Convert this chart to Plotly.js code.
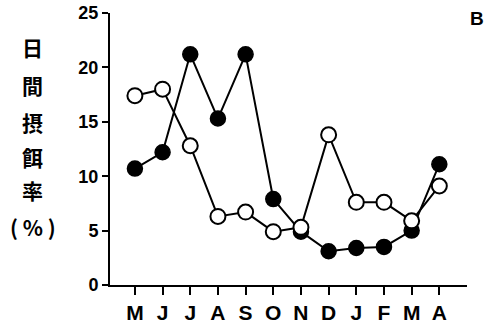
<!DOCTYPE html>
<html>
<head>
<meta charset="utf-8">
<script src="https://cdn.plot.ly/plotly-3.0.1.min.js"></script>
<style>html,body{margin:0;padding:0;background:#fff}#chart{width:490px;height:330px}</style>
</head>
<body>
<div id="chart"></div>
<script>
const months = ["M", "J", "J", "A", "S", "O", "N", "D", "J", "F", "M", "A"];
const filledValues = [10.7, 12.2, 21.2, 15.3, 21.2, 7.9, 4.9, 3.1, 3.4, 3.5, 5.0, 11.1];
const openValues = [17.4, 18.0, 12.8, 6.3, 6.7, 4.9, 5.3, 13.8, 7.6, 7.6, 5.9, 9.1];
const yTicks = [0, 5, 10, 15, 20, 25];
const titleChars = ["日", "間", "摂", "餌", "率", "( % )"];
const titleY = [0.874, 0.734, 0.599, 0.470, 0.349, 0.213];

const xIdx = months.map((_, i) => i);

const traces = [
  {
    x: xIdx, y: filledValues, type: "scatter", mode: "lines+markers",
    line: {color: "#000", width: 2},
    marker: {symbol: "circle", size: 15, color: "#000", line: {color: "#000", width: 1.5}},
    hoverinfo: "skip", showlegend: false
  },
  {
    x: xIdx, y: openValues, type: "scatter", mode: "lines+markers",
    line: {color: "#000", width: 2},
    marker: {symbol: "circle", size: 15, color: "#fff", line: {color: "#000", width: 2}},
    hoverinfo: "skip", showlegend: false
  }
];

const annotations = titleChars.map((c, i) => ({
  text: c, xref: "paper", yref: "paper", x: -0.216, y: titleY[i],
  xanchor: "center", yanchor: "middle", showarrow: false,
  font: {family: "Noto Sans CJK JP", size: 21, color: "#000", weight: "bold"}
}));
annotations.push({
  text: "<b>B</b>", xref: "paper", yref: "paper", x: 1.028, y: 0.98,
  xanchor: "center", yanchor: "middle", showarrow: false,
  font: {family: "Liberation Sans, Arial", size: 19, color: "#000"}
});

const layout = {
  width: 490, height: 330,
  margin: {l: 110, r: 23, t: 13, b: 45},
  paper_bgcolor: "#fff", plot_bgcolor: "#fff",
  showlegend: false,
  xaxis: {
    range: [-0.9, 12.0], tickmode: "array", tickvals: xIdx, ticktext: months,
    showgrid: false, zeroline: false, showline: true, linecolor: "#000", linewidth: 2,
    ticks: "outside", ticklen: 8, tickwidth: 2, tickcolor: "#000",
    tickfont: {family: "Liberation Sans, Arial", size: 21, color: "#000", weight: "bold"},
    fixedrange: true
  },
  yaxis: {
    range: [0, 25], tickmode: "array", tickvals: yTicks,
    showgrid: false, zeroline: false, showline: true, linecolor: "#000", linewidth: 2,
    ticks: "outside", ticklen: 6, tickwidth: 2, tickcolor: "#000",
    tickfont: {family: "Liberation Sans, Arial", size: 18, color: "#000", weight: "bold"},
    fixedrange: true
  },
  annotations: annotations
};

Plotly.newPlot("chart", traces, layout, {staticPlot: true, displayModeBar: false});
</script>
</body>
</html>
